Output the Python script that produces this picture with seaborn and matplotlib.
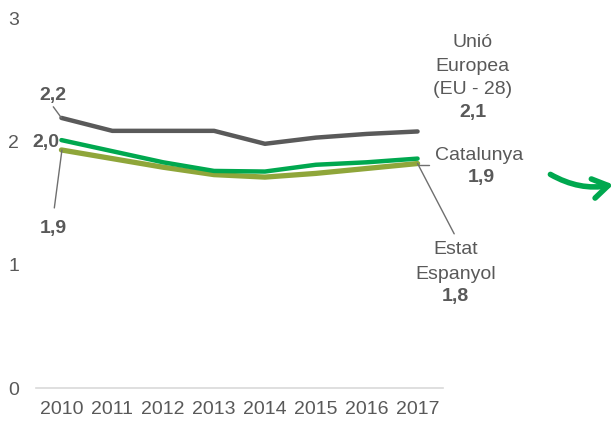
import matplotlib
matplotlib.use("Agg")
import matplotlib.pyplot as plt
from matplotlib.patches import FancyArrowPatch
import seaborn as sns
import pandas as pd

years = [2010, 2011, 2012, 2013, 2014, 2015, 2016, 2017]
ue = [2.19, 2.085, 2.085, 2.085, 1.98, 2.03, 2.06, 2.08]
catalunya = [2.01, 1.92, 1.83, 1.76, 1.755, 1.81, 1.83, 1.86]
espanya = [1.93, 1.86, 1.79, 1.73, 1.71, 1.74, 1.78, 1.82]
series_names = ["Unió Europea (EU - 28)", "Estat Espanyol", "Catalunya"]
y_ticks = [0, 1, 2, 3]

df = pd.DataFrame({
    "any": years * 3,
    "valor": ue + espanya + catalunya,
    "serie": [series_names[0]] * 8 + [series_names[1]] * 8 + [series_names[2]] * 8,
})

sns.set_style("white")
plt.rcParams["font.family"] = ["Liberation Sans", "DejaVu Sans"]

GRAY = "#595959"
colors = {series_names[0]: "#5a5a5a", series_names[1]: "#8fa63a", series_names[2]: "#00a84f"}
widths = {series_names[0]: 3.2, series_names[1]: 3.8, series_names[2]: 3.2}

W, H = 613, 423
fig = plt.figure(figsize=(W / 100, H / 100), dpi=100)
ax = fig.add_axes([36 / W, 35 / H, 407 / W, 370 / H])

for name in series_names:
    sns.lineplot(data=df[df["serie"] == name], x="any", y="valor", color=colors[name],
                 linewidth=widths[name], ax=ax, legend=False, solid_capstyle="round")

ax.set_xlim(2009.5, 2017.5)
ax.set_ylim(0, 3)
ax.set_xticks(years)
ax.set_xticklabels([str(y) for y in years])
ax.set_yticks(y_ticks)
ax.set_yticklabels([str(t) for t in y_ticks])
ax.set_xlabel("")
ax.set_ylabel("")
for s in ["top", "right", "left"]:
    ax.spines[s].set_visible(False)
ax.spines["bottom"].set_color("#d9d9d9")
ax.spines["bottom"].set_linewidth(1.2)
ax.tick_params(axis="both", length=0, labelsize=14, colors=GRAY)
ax.tick_params(axis="y", pad=12)
ax.tick_params(axis="x", pad=9)

fs = 14
lc = "#6f6f6f"
# Left-side labels
ax.text(2009.84, 2.37, "2,2", ha="center", va="center", fontsize=fs, fontweight="bold", color=GRAY)
ax.plot([2009.84, 2010], [2.28, ue[0]], color=lc, lw=1, clip_on=False)
ax.text(2009.95, 1.99, "2,0", ha="right", va="center", fontsize=fs, fontweight="bold", color=GRAY)
ax.text(2009.84, 1.29, "1,9", ha="center", va="center", fontsize=fs, fontweight="bold", color=GRAY)
ax.plot([2009.86, 2010.01], [1.46, espanya[0]], color=lc, lw=1, clip_on=False)

# Right-side labels
for txt, yy in [("Unió", 2.80), ("Europea", 2.61), ("(EU - 28)", 2.42)]:
    ax.text(2018.08, yy, txt, ha="center", va="center", fontsize=fs, color=GRAY, clip_on=False)
ax.text(2018.08, 2.23, "2,1", ha="center", va="center", fontsize=fs, fontweight="bold", color=GRAY)

ax.text(2018.21, 1.886, "Catalunya", ha="center", va="center", fontsize=fs, color=GRAY)
ax.text(2018.25, 1.71, "1,9", ha="center", va="center", fontsize=fs, fontweight="bold", color=GRAY)
ax.plot([2017.02, 2017.22], [1.81, 1.81], color=lc, lw=1, clip_on=False)

ax.plot([2017.0, 2017.72], [espanya[-1], 1.25], color=lc, lw=1, clip_on=False)
ax.text(2017.74, 1.127, "Estat", ha="center", va="center", fontsize=fs, color=GRAY)
ax.text(2017.74, 0.922, "Espanyol", ha="center", va="center", fontsize=fs, color=GRAY)
ax.text(2017.74, 0.743, "1,8", ha="center", va="center", fontsize=fs, fontweight="bold", color=GRAY)

# Hand-drawn style green arrow at right edge
arrow = FancyArrowPatch((548 / W, (H - 173) / H), (616 / W, (H - 184) / H),
                        transform=fig.transFigure, connectionstyle="arc3,rad=0.2",
                        arrowstyle="->,head_length=11,head_width=7", color="#00a84f",
                        lw=4.0, capstyle="round", joinstyle="round")
fig.patches.append(arrow)

fig.savefig("out.png", dpi=100)
